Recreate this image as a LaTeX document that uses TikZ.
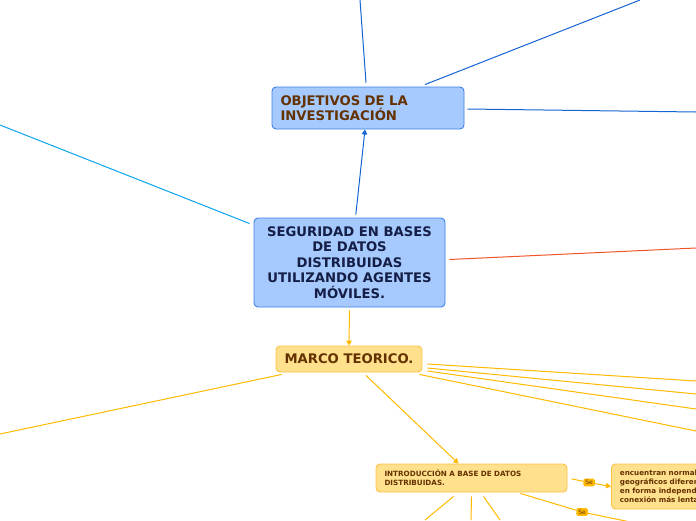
\documentclass[tikz,border=0pt]{standalone}
\usepackage{fontspec}
\setmainfont{DejaVu Sans}
\usepackage{xcolor}
\definecolor{mmblue}{RGB}{20,100,210}
\definecolor{mmbluefill}{RGB}{166,202,253}
\definecolor{mmblueedge}{RGB}{60,130,230}
\definecolor{mmcyan}{RGB}{10,165,235}
\definecolor{mmred}{RGB}{240,85,40}
\definecolor{mmnavy}{RGB}{20,30,70}
\definecolor{mmbrown}{RGB}{100,50,0}
\definecolor{mmorange}{RGB}{255,185,0}
\definecolor{mmorangefill}{RGB}{255,224,140}
\definecolor{mmorangeedge}{RGB}{250,195,70}
\usetikzlibrary{arrows.meta, positioning, calc}

\begin{document}
\begin{tikzpicture}[x=1pt, y=-1pt,
    every node/.style={font=\fontsize{13.2}{15.5}\selectfont\bfseries},
    bluebox/.style={draw=mmblueedge, fill=mmbluefill, rounded corners=4pt,
                    line width=0.9pt, inner xsep=8.5pt},
    orgbox/.style={draw=mmorangeedge, fill=mmorangefill, rounded corners=4pt,
                   line width=0.9pt, inner xsep=8.5pt, text=mmbrown},
    smalltxt/.style={font=\fontsize{7.2}{8.8}\selectfont\bfseries},
    selabel/.style={fill=mmorange, rounded corners=1.5pt, inner xsep=2pt,
                    inner ysep=1.5pt, text=mmbrown,
                    font=\fontsize{6}{6}\selectfont},
    bline/.style={mmblue, line width=1pt},
    oline/.style={mmorange, line width=1pt},
    tip/.style={-{Triangle[length=5pt, width=5.5pt]}},
]
\clip (0,0) rectangle (696,520);

% ===== main topic =====
\node[bluebox, minimum width=191pt, minimum height=89pt, align=center,
      text=mmnavy] (root) at (349.5,262.5)
      {SEGURIDAD EN BASES\\DE DATOS\\DISTRIBUIDAS\\UTILIZANDO AGENTES\\MÓVILES.};

% ===== subtopics =====
\node[bluebox, text width=175pt, minimum height=42pt, align=left,
      text=mmbrown] (obj) at (368,108) {OBJETIVOS DE LA\\INVESTIGACIÓN};
\node[orgbox, minimum width=144pt, minimum height=26pt] (marco) at (349,359)
      {MARCO TEORICO.};

% ===== under marco teorico =====
\node[orgbox, smalltxt, text width=174pt, minimum height=28pt, align=left]
      (intro) at (471.5,478) {INTRODUCCIÓN A BASE DE DATOS\\DISTRIBUIDAS.};
\node[orgbox, smalltxt, anchor=west, text width=110pt, minimum height=45pt,
      align=left] (enc) at (611,486.5)
      {encuentran normalmente\\geográficos diferentes\\en forma independiente\\conexión más lenta};
\node[selabel] (se1) at (589,482.5) {Se};
\node[selabel] (se2) at (582,512) {Se};

% free ends (off the page)
\coordinate (objT)   at (360,0);
\coordinate (objTR)  at (640,0);
\coordinate (objR)   at (696,112);
\coordinate (rootL)  at (0,125);
\coordinate (rootR)  at (696,248);
\coordinate (marcoL) at (0,434);
\coordinate (m1) at (696,381);
\coordinate (m2) at (696,394);
\coordinate (m3) at (696,409);
\coordinate (m4) at (696,431);
\coordinate (i1) at (425,520);
\coordinate (i2) at (471,520);
\coordinate (i3) at (500,520);
\coordinate (seEnd) at (640,524);

% blue branch
\draw[bline, tip, shorten <=3pt] ($(root.north)+(6,0)$) -- ($(obj.south)+(-3,0)$);
\draw[bline] ($(obj.north)+(-2,-4)$) -- (objT);
\draw[bline] ($(obj.north)+(57,-2)$) -- (objTR);
\draw[bline] ($(obj.east)+(3,1)$) -- (objR);

% other branches of the main topic
\draw[mmcyan, line width=1pt] ($(root.north west)+(-4,6)$) -- (rootL);
\draw[mmred, line width=1pt] ($(root.east)+(4,-3)$) -- (rootR);
\draw[oline, tip, shorten <=3pt] (root.south) -- (marco.north);

% marco teorico
\draw[oline] ($(marco.south west)+(6,2)$) -- (marcoL);
\draw[oline] ($(marco.east)+(5,5)$) -- (m1);
\draw[oline] ($(marco.east)+(5,9)$) -- (m2);
\draw[oline] ($(marco.east)+(5,12)$) -- (m3);
\draw[oline] ($(marco.south east)+(-3,2)$) -- (m4);
\draw[oline, tip] ($(marco.south)+(17,3)$) -- ($(intro.north)+(-13,0)$);

% introduccion
\draw[oline, shorten <=4pt] (intro.east) -- (se1);
\draw[oline, tip] (se1) -- (enc.west);
\draw[oline] ($(intro.south)+(49,1)$) -- (se2);
\draw[oline] (se2) -- (seEnd);
\draw[oline] ($(intro.south)+(-18,4)$) -- (i1);
\draw[oline] ($(intro.south)+(0,4)$) -- (i2);
\draw[oline] ($(intro.south)+(12,4)$) -- (i3);

\end{tikzpicture}
\end{document}
